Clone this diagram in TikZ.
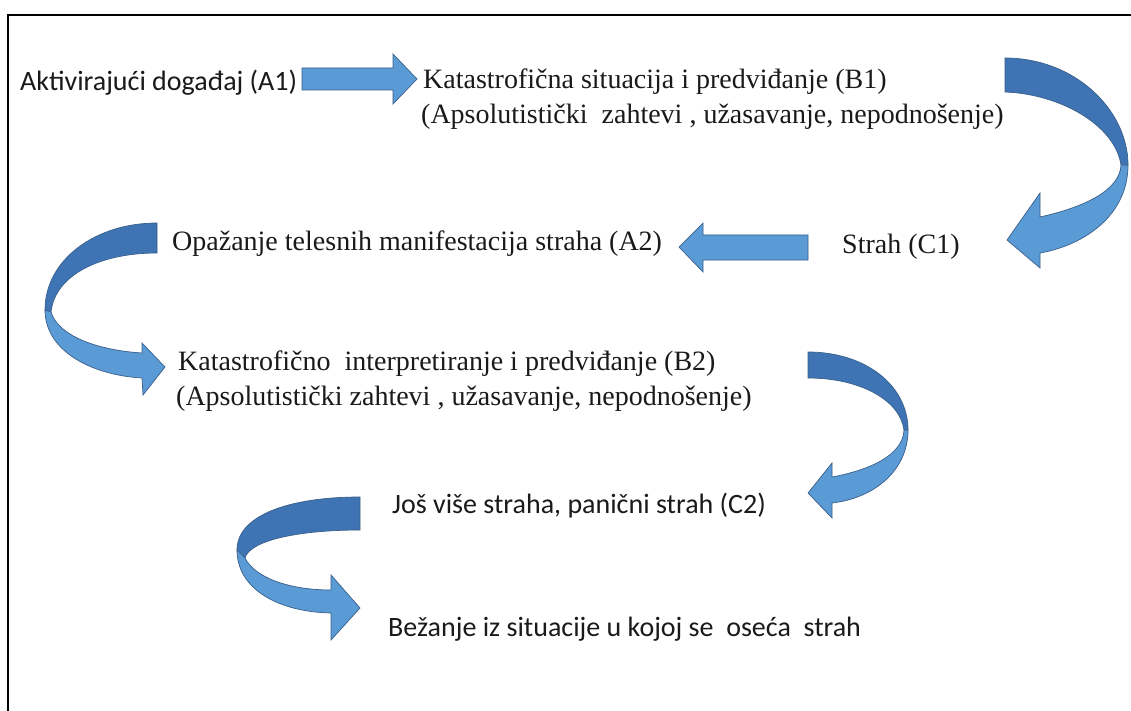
\documentclass[tikz,border=0pt]{standalone}
\usepackage{fontspec}
\setmainfont{Liberation Serif}
\newfontfamily\calib{Carlito}
\definecolor{blueL}{HTML}{5B9BD5}
\definecolor{blueD}{HTML}{3F74B4}
\definecolor{blueE}{HTML}{3A5F8A}
\definecolor{txt}{HTML}{1A1A1A}
\begin{document}
\begin{tikzpicture}[x=1pt,y=-1pt,
  serif/.style={anchor=base west, inner sep=0pt, text=txt, font=\fontsize{28}{34}\selectfont},
  sans/.style={anchor=base west, inner sep=0pt, text=txt, font=\calib\fontsize{28}{34}\selectfont},
  flat/.style={fill=blueL, draw=blueE, line width=0.7pt},
  back/.style={fill=blueD, draw=blueE, line width=0.7pt},
  front/.style={fill=blueL, draw=blueE, line width=0.7pt},
  frame/.style={draw=black, line width=2pt}]
\useasboundingbox (0,0) rectangle (1131,711);
\fill[white] (0,0) rectangle (1131,711);
% frame (top and left edges)
\draw[frame] (1131,15) -- (8,15) -- (8,711);

% texts
\node[sans]  (a1)  at (20,91)  {Aktivirajući događaj (A1)};
\node[serif] (b1a) at (423,89) {Katastrofična situacija i predviđanje (B1)};
\node[serif] (b1b) at (421,124) {(Apsolutistički\ \ zahtevi , užasavanje, nepodnošenje)};
\node[serif] (c1)  at (842,254) {Strah (C1)};
\node[serif] (a2)  at (172,250) {Opažanje telesnih manifestacija straha (A2)};
\node[serif] (b2a) at (178,370) {Katastrofično\ \ interpretiranje i predviđanje (B2)};
\node[serif] (b2b) at (176,405) {(Apsolutistički zahtevi , užasavanje, nepodnošenje)};
\node[sans]  (c2)  at (392,513) {Još više straha, panični strah (C2)};
\node[sans]  (d)   at (388,636) {Bežanje iz situacije u kojoj se\ \ oseća\ \ strah};

% straight arrow A1 -> B1
\draw[flat] (302,68) -- (393,68) -- (393,54) -- (417,79) -- (393,104) -- (393,90) -- (302,90) -- cycle;
% straight arrow C1 -> A2
\draw[flat] (808,235) -- (703,235) -- (703,223) -- (679,247) -- (703,272) -- (703,260) -- (808,260) -- cycle;

% curved arrow B1 -> C1 (right side)
\draw[back] (1005,58) .. controls (1075,58) and (1128,110) .. (1128,165)
  -- (1121,165) .. controls (1115,125) and (1060,94) .. (1005,92) -- cycle;
\draw[front] (1128,165) .. controls (1128,215) and (1085,245) .. (1040,253)
  -- (1040,268) -- (1007,240) -- (1040,193) -- (1040,217)
  .. controls (1085,207) and (1120,190) .. (1121,165) -- cycle;

% curved arrow A2 -> B2 (left side)
\draw[back] (157,223) .. controls (95,223) and (45,260) .. (45,310)
  -- (51,312) .. controls (55,275) and (100,253) .. (157,253) -- cycle;
\draw[front] (45,310) .. controls (45,350) and (90,375) .. (142,378)
  -- (143,395) -- (165,367) -- (142,343) -- (142,353)
  .. controls (95,350) and (58,335) .. (51,312) -- cycle;

% curved arrow B2 -> C2 (right side)
\draw[back] (808,352) .. controls (865,352) and (908,385) .. (908,430)
  -- (904,430) .. controls (900,400) and (860,378) .. (808,378) -- cycle;
\draw[front] (908,430) .. controls (908,470) and (875,498) .. (832,503)
  -- (832,518) -- (808,493) -- (832,463) -- (832,477)
  .. controls (870,470) and (903,455) .. (904,430) -- cycle;

% curved arrow C2 -> escape (left side)
\draw[back] (360,497) .. controls (290,497) and (237,515) .. (237,550)
  -- (245,558) .. controls (250,540) and (300,530) .. (360,530) -- cycle;
\draw[front] (237,550) .. controls (237,590) and (280,612) .. (331,613)
  -- (331,640) -- (360,608) -- (331,575) -- (331,590)
  .. controls (290,590) and (255,578) .. (245,558) -- cycle;
\end{tikzpicture}
\end{document}
